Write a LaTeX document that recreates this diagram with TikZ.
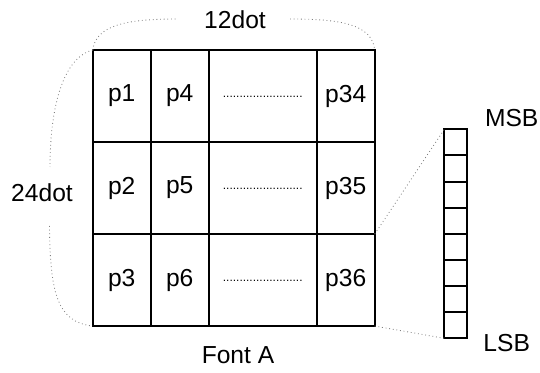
\documentclass[tikz,border=0pt]{standalone}
\usepackage{fontspec}
\setmainfont{Liberation Sans}
\usetikzlibrary{positioning}

\begin{document}
\begin{tikzpicture}[
        x=0.025cm,
        y=-0.025cm,
        cell/.style={
            draw,
            line width=1.4pt,
            outer sep=0pt,
            inner sep=0pt,
            minimum width=1.45cm,
            minimum height=2.3cm
        },
        gapcell/.style={
            cell,
            minimum width=2.7cm,
            font=\fontsize{8.5}{10}\selectfont
        },
        bit/.style={
            draw,
            line width=1.4pt,
            outer sep=0pt,
            inner sep=0pt,
            minimum width=0.575cm,
            minimum height=0.653cm
        },
        guide/.style={
            dotted,
            gray,
            line width=0.6pt
        },
        node distance=0pt,
        every node/.style={font=\fontsize{17.5}{20}\selectfont}
    ]

        \useasboundingbox (0,0) rectangle (540,373);

        % font grid
        \node[cell, anchor=north west] (c1) at (92.7,50) {p1};
        \node[cell, below=of c1] (c2) {p2};
        \node[cell, below=of c2] (c3) {p3};
        \node[cell, right=of c1] (c4) {p4};
        \node[cell, below=of c4] (c5) {p5};
        \node[cell, below=of c5] (c6) {p6};
        \node[gapcell, right=of c4] (g1) {\raisebox{-2pt}{........................}};
        \node[gapcell, below=of g1] (g2) {\raisebox{-2pt}{........................}};
        \node[gapcell, below=of g2] (g3) {\raisebox{-2pt}{........................}};
        \node[cell, right=of g1] (c34) {p34};
        \node[cell, below=of c34] (c35) {p35};
        \node[cell, below=of c35] (c36) {p36};

        % one column byte
        \node[bit, anchor=north] (b1) at (455.8,129.3) {};
        \foreach \i [count=\j from 2] in {1,...,7}
            \node[bit, below=of b\i] (b\j) {};

        \node (width) at (235,20) {12dot};
        \node (height) at (42,193) {24dot};
        \node (fontname) at (238,355) {Font A};
        \node (msb) at (511.7,118) {MSB};
        \node (lsb) at (506.7,343) {LSB};

        \coordinate (wl) at (178,19);
        \coordinate (wr) at (290,19);
        \coordinate (ht) at (50,167);
        \coordinate (hb) at (49.5,226);

        \draw[guide] (c1.north west) .. controls (96,24) and (130,19) .. (wl);
        \draw[guide] (wr) .. controls (340,19) and (372,24) .. (c34.north east);
        \draw[guide] (c1.north west) .. controls (62,58) and (50,110) .. (ht);
        \draw[guide] (hb) .. controls (50,295) and (58,322) .. (c3.south west);
        \draw[guide] (c35.south east) -- (b1.north west);
        \draw[guide] (c36.south east) -- (b8.south west);

    \end{tikzpicture}
\end{document}
